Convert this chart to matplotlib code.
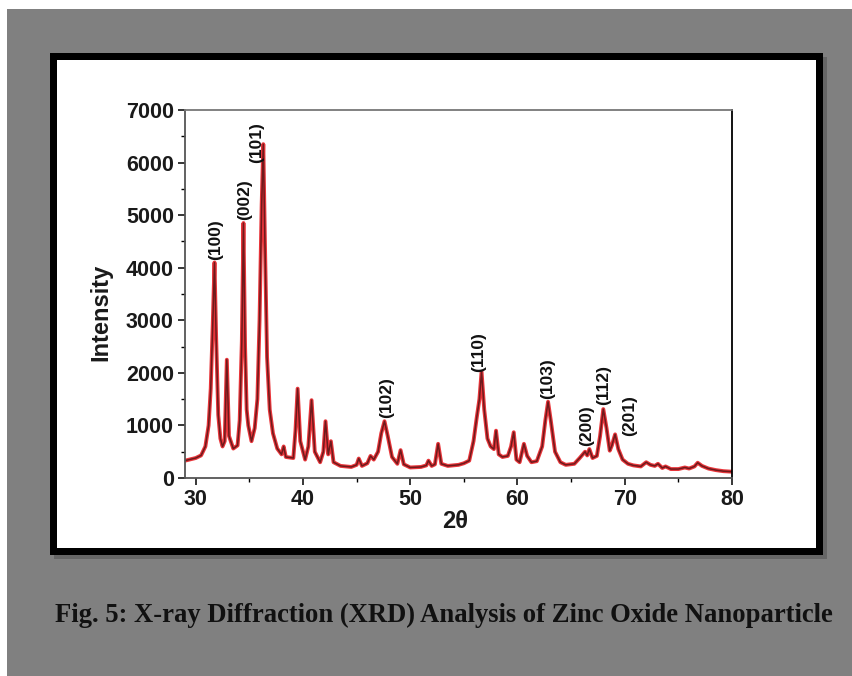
import matplotlib
matplotlib.use("Agg")
import matplotlib.pyplot as plt
from matplotlib.patches import Rectangle

# XRD pattern (2theta, intensity)
two_theta = [29.0, 30.0, 30.5, 30.9, 31.2, 31.4, 31.6, 31.75, 31.9, 32.1, 32.3, 32.5, 32.7, 32.9,
             33.1, 33.5, 33.9, 34.1, 34.3, 34.45, 34.6, 34.75, 34.9, 35.2, 35.5, 35.75, 35.95,
             36.15, 36.3, 36.45, 36.65, 36.9, 37.2, 37.6, 38.0, 38.2, 38.4, 39.1, 39.3, 39.5,
             39.75, 40.2, 40.5, 40.8, 41.1, 41.6, 41.9, 42.1, 42.35, 42.6, 42.85, 43.5, 44.5,
             45.0, 45.2, 45.5, 46.0, 46.3, 46.6, 47.0, 47.3, 47.6, 47.9, 48.3, 48.8, 49.1, 49.4,
             50.0, 51.0, 51.5, 51.7, 52.0, 52.3, 52.6, 52.9, 53.5, 54.5, 55.0, 55.5, 55.9, 56.2,
             56.45, 56.65, 56.9, 57.2, 57.5, 57.8, 58.0, 58.25, 58.6, 59.1, 59.4, 59.65, 59.9,
             60.2, 60.6, 60.9, 61.3, 61.8, 62.3, 62.6, 62.85, 63.1, 63.5, 64.0, 64.5, 65.3, 65.8,
             66.3, 66.5, 66.7, 67.0, 67.4, 67.7, 68.0, 68.3, 68.6, 68.8, 69.1, 69.4, 69.8, 70.3,
             70.8, 71.5, 72.0, 72.4, 72.8, 73.1, 73.5, 73.8, 74.3, 75.0, 75.6, 76.0, 76.5, 76.8,
             77.2, 77.8, 78.5, 79.2, 80.0]
intensity = [330, 380, 430, 600, 1000, 1700, 3000, 4100, 2700, 1200, 750, 600, 700, 2250,
             800, 560, 620, 1100, 2600, 4850, 2500, 1300, 1000, 700, 950, 1500, 3000,
             5200, 6350, 4500, 2300, 1300, 850, 560, 450, 600, 400, 380, 900, 1700,
             700, 350, 600, 1480, 500, 300, 500, 1080, 450, 700, 300, 230, 210,
             250, 370, 230, 280, 420, 350, 500, 850, 1080, 800, 400, 270, 530, 260,
             200, 210, 240, 330, 230, 260, 650, 270, 230, 250, 280, 330, 700, 1150,
             1500, 2020, 1300, 750, 600, 550, 900, 450, 400, 420, 600, 870, 350,
             300, 650, 420, 300, 320, 600, 1100, 1450, 1100, 500, 300, 250, 270, 380,
             500, 430, 550, 380, 420, 800, 1310, 950, 520, 620, 830, 550, 350, 270,
             240, 220, 300, 250, 230, 270, 190, 220, 170, 170, 200, 180, 220, 290,
             230, 180, 150, 130, 120]

# Miller indices and where their labels sit
hkl = ["(100)", "(002)", "(101)", "(102)", "(110)", "(103)", "(200)", "(112)", "(201)"]
label_x = [31.9, 34.55, 35.65, 47.8, 56.4, 62.85, 66.45, 68.05, 70.5]
label_y = [4150, 4900, 6000, 1150, 2020, 1500, 600, 1390, 790]

W, H = 852, 676
fig = plt.figure(figsize=(W / 100, H / 100), dpi=100)
fig.patch.set_facecolor("white")


def box(x0, y0, x1, y1, **kw):
    # rectangle given in pixel coords (origin top-left)
    fig.patches.append(Rectangle((x0 / W, 1 - y1 / H), (x1 - x0) / W, (y1 - y0) / H,
                                 transform=fig.transFigure, figure=fig, **kw))


box(7, 9, W, H, facecolor="#808080", edgecolor="none", zorder=-10)
box(54, 57, 827, 559, facecolor="#666666", edgecolor="none", zorder=-9)
box(50, 53, 823, 555, facecolor="black", edgecolor="none", zorder=-8)
box(57, 60, 816, 548, facecolor="white", edgecolor="none", zorder=-7)

ax = fig.add_axes([185 / W, 1 - 478 / H, 547 / W, 368 / H])
ax.set_facecolor("none")

ax.plot(two_theta, intensity, color="#e8353a", lw=2.8, solid_joinstyle="round")
ax.plot(two_theta, intensity, color="#6e1a1c", lw=1.1, solid_joinstyle="round")

for lab, lx, ly in zip(hkl, label_x, label_y):
    ax.text(lx, ly, lab, rotation=90, ha="center", va="bottom", fontsize=12.5,
            fontweight="bold", family="Liberation Sans", color="#111111")

ax.set_xlim(29, 80)
ax.set_ylim(0, 7000)
ax.set_xticks(range(30, 81, 10))
ax.set_xticks(range(35, 80, 10), minor=True)
ax.set_yticks(range(0, 7001, 1000))
ax.set_yticks(range(500, 7000, 1000), minor=True)
ax.tick_params(which="major", direction="out", length=5, width=1.1, labelsize=15.5, pad=3)
ax.tick_params(which="minor", direction="out", length=3, width=1.0)
for t in ax.get_xticklabels() + ax.get_yticklabels():
    t.set_fontweight("bold")
    t.set_family("Liberation Sans")
    t.set_color("#1a1a1a")

ax.spines["top"].set_color("#777777")
ax.spines["left"].set_color("#555555")
ax.spines["bottom"].set_color("#555555")
ax.spines["right"].set_color("black")
for s in ax.spines.values():
    s.set_linewidth(1.3)

fig.text(101 / W, 1 - 312 / H, "Intensity", rotation=90, ha="center", va="center",
         fontsize=17, fontweight="bold", family="Liberation Sans", color="#1a1a1a")
fig.text(455 / W, 1 - 521 / H, "2θ", ha="center", va="center",
         fontsize=17, fontweight="bold", family="Liberation Sans", color="#1a1a1a")

cap = fig.text(444 / W, 1 - 615 / H,
               "Fig. 5: X-ray Diffraction (XRD) Analysis of Zinc Oxide Nanoparticle",
               ha="center", va="center", fontsize=18, fontweight="bold",
               family="Liberation Serif", color="#111111")
# fit caption to the width it spans in the reference
r = fig.canvas.get_renderer()
w = cap.get_window_extent(r).width
cap.set_fontsize(18 * 778 / w)

fig.savefig("out.png", dpi=100)
